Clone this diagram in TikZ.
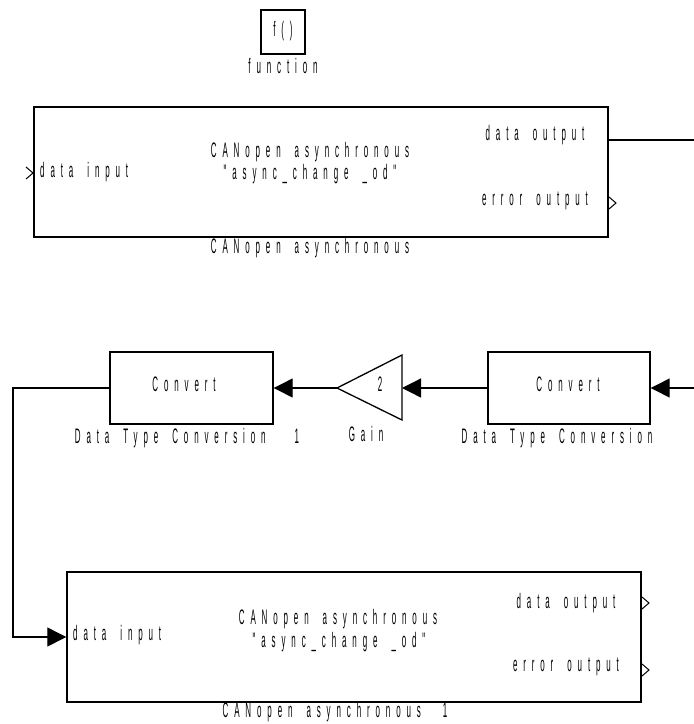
\documentclass[tikz,border=0pt]{standalone}
\usepackage{fontspec}
\usetikzlibrary{arrows.meta}
\newfontfamily\lblfont[FakeStretch=0.38,LetterSpace=28]{Liberation Sans}
\newcommand\lblstyle{\lblfont\fontsize{21}{24}\selectfont}
% explicit gap between words of a label
\newcommand\wsp{\hspace{14pt}}
\begin{document}
\begin{tikzpicture}[x=1pt,y=-1pt,
  blk/.style={draw,line width=1.4pt,inner sep=0pt},
  txt/.style={font=\lblstyle,inner sep=0pt},
  wire/.style={line width=1.3pt},
  flow/.style={wire,-{Triangle[length=19pt,width=19pt]}},
  chev/.pic={\draw[line width=1pt] (0,-6) -- (7,0) -- (0,6);}]
\useasboundingbox (0,0) rectangle (694,724);

% function block
\node[blk,minimum width=44pt,minimum height=44pt] (fn) at (283,32) {};
\node[txt] (fnt) at (283,31) {f()};
\node[txt] (fnl) at (283,66) {function};

% upper CANopen block
\node[blk,minimum width=574pt,minimum height=130pt] (can1) at (321,172) {};
\node[txt,anchor=west] (c1in) at (40,172) {data\wsp input};
\node[txt] (c1a) at (310,152) {CANopen\wsp asynchronous};
\node[txt] (c1b) at (310,174) {"async\_change\wsp\_od"};
\node[txt] (c1do) at (535,135) {data\wsp output};
\node[txt] (c1eo) at (535,201) {error\wsp output};
\node[txt] (c1l) at (310,248) {CANopen\wsp asynchronous};
\pic at (26,173) {chev};
\pic at (609,203) {chev};
\coordinate (c1out) at (608,140);
\coordinate (c1end) at (694,140);
\draw[wire] (c1out) -- (c1end);

% conversion chain
\node[blk,minimum width=162pt,minimum height=72pt] (conv0) at (569,388) {};
\node[txt] (conv0t) at (568,384) {Convert};
\node[txt] (conv0l) at (557,438) {Data\wsp Type\wsp Conversion};

\coordinate (gL) at (337,388);
\coordinate (gR) at (402,388);
\draw[line width=1.3pt,line join=miter] (gL) -- (402,355) -- (402,420) -- cycle;
\node[txt] (gt) at (380,384) {2};
\node[txt] (gl) at (366,434) {Gain};

\node[blk,minimum width=163pt,minimum height=72pt] (conv1) at (191.5,388) {};
\node[txt] (conv1t) at (184,384) {Convert};
\node[txt] (conv1l) at (187,438) {Data\wsp Type\wsp Conversion\wsp\hspace{15pt}1};

\coordinate (rin) at (694,388);
\draw[flow] (rin) -- (conv0.east);
\draw[flow] (conv0.west) -- (gR);
\draw[flow] (gL) -- (conv1.east);

% lower CANopen block
\node[blk,minimum width=574pt,minimum height=130pt] (can2) at (354,637) {};
\node[txt,anchor=west] (c2in) at (73,635) {data\wsp input};
\node[txt] (c2a) at (338,619) {CANopen\wsp asynchronous};
\node[txt] (c2b) at (339,642) {"async\_change\wsp\_od"};
\node[txt] (c2do) at (566,603) {data\wsp output};
\node[txt] (c2eo) at (566,667) {error\wsp output};
\node[txt] (c2l) at (335,712) {CANopen\wsp asynchronous\wsp\hspace{8pt}1};
\pic at (642,603) {chev};
\pic at (642,670) {chev};

\coordinate (bend) at (13,637);
\draw[flow] (conv1.west) -| (bend) -- (can2.west);
\end{tikzpicture}
\end{document}
